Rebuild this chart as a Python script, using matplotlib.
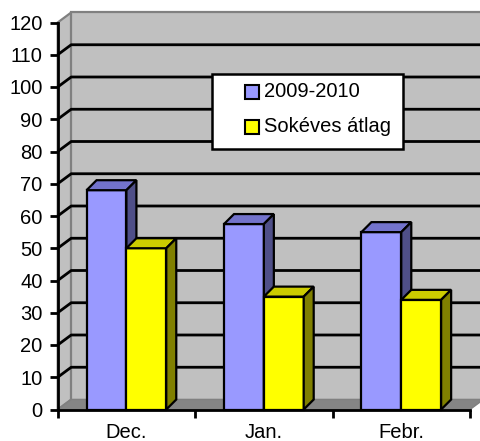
import matplotlib
matplotlib.use("Agg")
import matplotlib.pyplot as plt
from matplotlib.patches import Polygon, Rectangle

categories = ["Dec.", "Jan.", "Febr."]
series_names = ["2009-2010", "Sokéves átlag"]
vals_2009 = [68, 57.5, 55]
vals_avg = [50, 35, 34]
y_ticks = list(range(0, 121, 10))

# colours: front / top / side
blue = ("#9999FF", "#7373CC", "#4F4F88")
yellow = ("#FFFF00", "#CCCC00", "#808000")

plt.rcParams["font.family"] = ["Liberation Sans", "DejaVu Sans"]

W, H = 480, 441
fig = plt.figure(figsize=(W / 100, H / 100), dpi=100)
# front plane of the 3d box: x 0..3, y 0..120
x0, x1, y0, y1 = 57.7, 470, 409.5, 22.5
ax = fig.add_axes([x0 / W, 1 - y0 / H, (x1 - x0) / W, (y0 - y1) / H])
ax.set_xlim(0, 3)
ax.set_ylim(0, 120)

pxx = (x1 - x0) / 3      # px per category
pxy = (y0 - y1) / 120    # px per unit
wdx, wdy = 13.5 / pxx, 10 / pxy     # wall depth
bdx, bdy = 10 / pxx, 10 / pxy       # bar depth
xr = 3.2  # wall runs off the right edge

def poly(pts, fc, ec="none", lw=0, z=1):
    ax.add_patch(Polygon(pts, closed=True, facecolor=fc, edgecolor=ec, lw=lw,
                         zorder=z, clip_on=False, joinstyle="miter"))

# side wall, back wall, floor
poly([(0, 0), (0, 120), (wdx, 120 + wdy), (wdx, wdy)], "#C0C0C0", "#808080", 1.6, 1)
poly([(wdx, wdy), (wdx, 120 + wdy), (xr, 120 + wdy), (xr, wdy)], "#C0C0C0", "#808080", 1.6, 1)
poly([(0, 0), (3, 0), (3 + wdx, wdy), (xr, wdy), (xr, 0 + wdy), (wdx, wdy)], "#858585", "#808080", 1, 1.5)

for v in y_ticks[1:-1]:
    ax.plot([0, wdx, xr], [v, v + wdy, v + wdy], color="black", lw=2,
            zorder=2, clip_on=False, solid_capstyle="butt")

bw = 0.29

def bar3d(x, h, cols):
    f, t, s = cols
    poly([(x, 0), (x, h), (x + bw, h), (x + bw, 0)], f, "black", 1.6, 3)
    poly([(x, h), (x + bdx, h + bdy), (x + bw + bdx, h + bdy), (x + bw, h)], t, "black", 1.6, 3)
    poly([(x + bw, 0), (x + bw, h), (x + bw + bdx, h + bdy), (x + bw + bdx, bdy)], s, "black", 1.6, 3)

for i in range(len(categories)):
    c = i + 0.5
    bar3d(c - bw, vals_2009[i], blue)
    bar3d(c, vals_avg[i], yellow)

# axes
for s in ["top", "right"]:
    ax.spines[s].set_visible(False)
for s in ["left", "bottom"]:
    ax.spines[s].set_linewidth(2)
    ax.spines[s].set_zorder(5)
ax.set_facecolor("none")
ax.set_yticks(y_ticks)
ax.tick_params(axis="y", direction="out", length=6, width=2, pad=5, labelsize=14.5)
ax.set_xticks([0, 1, 2, 3])
ax.set_xticklabels([])
ax.set_xticks([0.5, 1.5, 2.5], minor=True)
ax.set_xticklabels(categories, minor=True)
ax.tick_params(axis="x", which="major", direction="out", length=6, width=2)
ax.tick_params(axis="x", which="minor", length=0, pad=10, labelsize=14.5)

# legend box
lx0, ly0, lx1, ly1 = 212, 74, 403, 149
fig.patches.append(Rectangle((lx0 / W, 1 - ly1 / H), (lx1 - lx0) / W, (ly1 - ly0) / H,
                             transform=fig.transFigure, facecolor="white",
                             edgecolor="black", lw=1.8, zorder=10))
for name, col, yc in zip(series_names, [blue[0], yellow[0]], [91.7, 126.7]):
    fig.patches.append(Rectangle((245 / W, 1 - (yc + 7) / H), 14 / W, 14 / H,
                                 transform=fig.transFigure, facecolor=col,
                                 edgecolor="black", lw=1.5, zorder=11))
    fig.text(264 / W, 1 - yc / H, name, fontsize=14.5, va="center", ha="left", zorder=12)

fig.savefig("out.png", dpi=100)
